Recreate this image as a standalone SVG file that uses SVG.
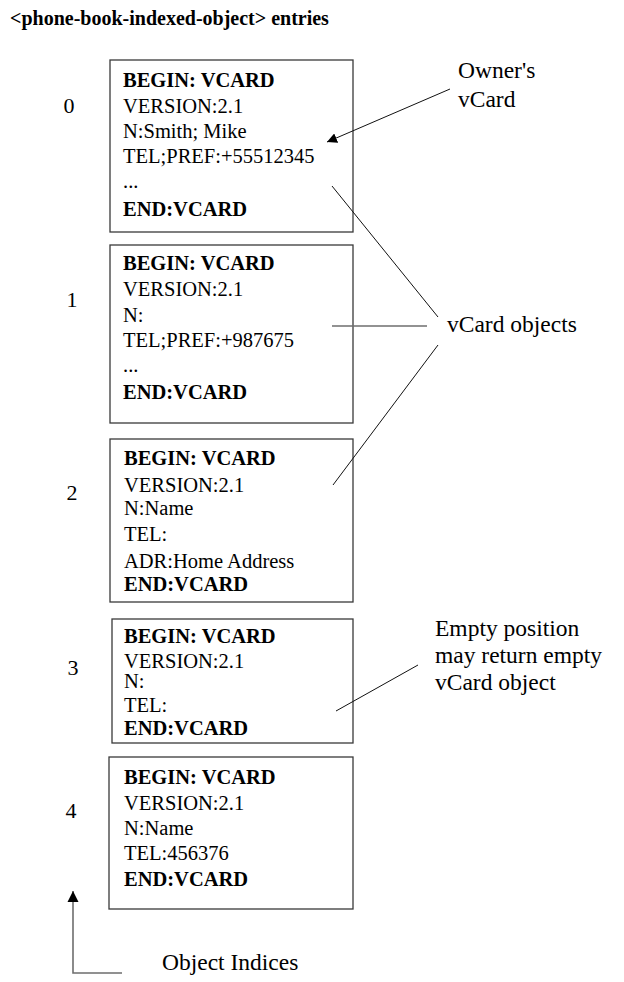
<svg xmlns="http://www.w3.org/2000/svg" width="624" height="982" viewBox="0 0 624 982">
  <style>
    text { font-family: "Liberation Serif", "Times New Roman", serif; fill: #000; }
    .title { font-size: 20px; font-weight: bold; }
    .field { font-size: 20.5px; }
    .b { font-weight: bold; }
    .idx { font-size: 22px; text-anchor: middle; }
    .note { font-size: 23.5px; }
    .box { fill: #fff; stroke: #3a3a3a; stroke-width: 1.3; }
    .lead { stroke: #111; stroke-width: 1; fill: none; }
    .grey { stroke: #6e6e6e; stroke-width: 1.6; fill: none; }
  </style>
  <defs>
    <marker id="tip" viewBox="0 0 10 10" refX="10" refY="5" markerWidth="10" markerHeight="10" markerUnits="userSpaceOnUse" orient="auto">
      <path d="M0,0 L10,5 L0,10 z" fill="#000"/>
    </marker>
    <marker id="tipUp" viewBox="0 0 10 10" refX="10" refY="5" markerWidth="11" markerHeight="13" markerUnits="userSpaceOnUse" orient="auto">
      <path d="M0,0 L10,5 L0,10 z" fill="#000"/>
    </marker>
  </defs>

  <text class="title" x="10" y="25">&lt;phone-book-indexed-object&gt; entries</text>

  <!-- entry 0 -->
  <g id="entry0">
    <rect class="box" x="110" y="60" width="243" height="172"/>
    <text class="idx" x="69" y="113">0</text>
    <text class="field b" x="123" y="87">BEGIN: VCARD</text>
    <text class="field" x="123" y="113">VERSION:2.1</text>
    <text class="field" x="123" y="138">N:Smith; Mike</text>
    <text class="field" x="123" y="163">TEL;PREF:+55512345</text>
    <text class="field" x="123" y="188">...</text>
    <text class="field b" x="123" y="216">END:VCARD</text>
  </g>

  <!-- entry 1 -->
  <g id="entry1">
    <rect class="box" x="110" y="245" width="243" height="178"/>
    <text class="idx" x="72" y="307">1</text>
    <text class="field b" x="123" y="270">BEGIN: VCARD</text>
    <text class="field" x="123" y="296">VERSION:2.1</text>
    <text class="field" x="123" y="322">N:</text>
    <text class="field" x="123" y="347">TEL;PREF:+987675</text>
    <text class="field" x="123" y="372">...</text>
    <text class="field b" x="123" y="399">END:VCARD</text>
  </g>

  <!-- entry 2 -->
  <g id="entry2">
    <rect class="box" x="110" y="439" width="243" height="163"/>
    <text class="idx" x="72" y="500">2</text>
    <text class="field b" x="124" y="465">BEGIN: VCARD</text>
    <text class="field" x="124" y="492">VERSION:2.1</text>
    <text class="field" x="124" y="515">N:Name</text>
    <text class="field" x="124" y="541">TEL:</text>
    <text class="field" x="124" y="568">ADR:Home Address</text>
    <text class="field b" x="124" y="591">END:VCARD</text>
  </g>

  <!-- entry 3 -->
  <g id="entry3">
    <rect class="box" x="112" y="619" width="241" height="124"/>
    <text class="idx" x="73" y="675">3</text>
    <text class="field b" x="124" y="643">BEGIN: VCARD</text>
    <text class="field" x="124" y="668">VERSION:2.1</text>
    <text class="field" x="124" y="688">N:</text>
    <text class="field" x="124" y="712">TEL:</text>
    <text class="field b" x="124" y="735">END:VCARD</text>
  </g>

  <!-- entry 4 -->
  <g id="entry4">
    <rect class="box" x="109" y="757" width="244" height="152"/>
    <text class="idx" x="71" y="818">4</text>
    <text class="field b" x="124" y="784">BEGIN: VCARD</text>
    <text class="field" x="124" y="810">VERSION:2.1</text>
    <text class="field" x="124" y="835">N:Name</text>
    <text class="field" x="124" y="860">TEL:456376</text>
    <text class="field b" x="124" y="886">END:VCARD</text>
  </g>

  <!-- callout labels -->
  <g id="owner-label">
    <text class="note" x="458" y="78">Owner's</text>
    <text class="note" x="458" y="107">vCard</text>
  </g>
  <g id="objects-label">
    <text class="note" x="447" y="332">vCard objects</text>
  </g>
  <g id="empty-label">
    <text class="note" x="435" y="636">Empty position</text>
    <text class="note" x="435" y="663">may return empty</text>
    <text class="note" x="435" y="690">vCard object</text>
  </g>
  <g id="indices-label">
    <text class="note" x="162" y="970">Object Indices</text>
  </g>

  <!-- connectors -->
  <g id="connectors">
    <line class="lead" x1="450" y1="89" x2="327" y2="142" marker-end="url(#tip)"/>
    <line class="lead" x1="332" y1="186" x2="438" y2="317"/>
    <line class="grey" x1="332" y1="326" x2="427" y2="326"/>
    <line class="lead" x1="333" y1="485" x2="438" y2="345"/>
    <line class="lead" x1="336" y1="711" x2="418" y2="665"/>
    <polyline class="grey" points="122,973 73,973 73,891" marker-end="url(#tipUp)"/>
  </g>
</svg>
